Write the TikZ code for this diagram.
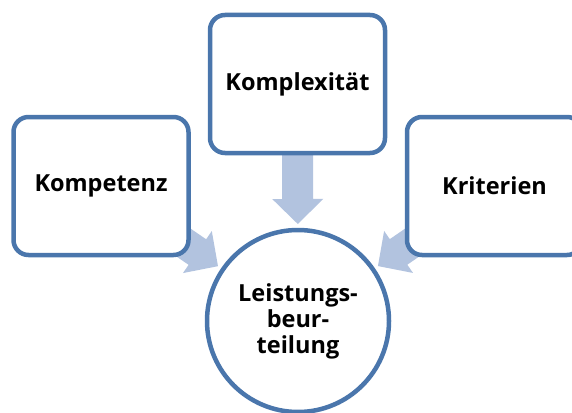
\documentclass[tikz,border=0pt]{standalone}
\usepackage{fontspec}
\setmainfont{Open Sans}
\usetikzlibrary{calc,backgrounds}
\definecolor{boxline}{HTML}{4A76AC}
\definecolor{arrowfill}{HTML}{B2C3DF}
\newcommand\myblockarrow[2]{%
  \fill[arrowfill]
    ($(#1.center)!97pt!(#2.center)$)
    -- ($(#1.center)!122pt!(#2.center)!25.5pt!90:(#2.center)$)
    -- ($(#1.center)!122pt!(#2.center)!15.5pt!90:(#2.center)$)
    -- ($(#1.center)!175pt!(#2.center)!15.5pt!90:(#2.center)$)
    -- ($(#1.center)!175pt!(#2.center)!15.5pt!-90:(#2.center)$)
    -- ($(#1.center)!122pt!(#2.center)!15.5pt!-90:(#2.center)$)
    -- ($(#1.center)!122pt!(#2.center)!25.5pt!-90:(#2.center)$)
    -- cycle;}
\begin{document}
\begin{tikzpicture}[x=1pt,y=-1pt,
  lbl/.style={font=\fontsize{23.5}{26}\selectfont\bfseries},
  box/.style={lbl, draw=boxline, line width=4.5pt, rounded corners=15pt, fill=white,
    minimum width=175pt, minimum height=138pt, inner sep=0pt, outer sep=0pt},
  hub/.style={lbl, circle, draw=boxline, line width=4.5pt, fill=white,
    minimum size=182pt, inner sep=0pt, align=center}]
\useasboundingbox (0,0) rectangle (572,412);
\clip (0,0) rectangle (572,412);
\node[box] (komp) at (101,186) {Kompetenz};
\node[box] (kplx) at (297.5,84) {Komplexität};
\node[box] (krit) at (494.5,186) {Kriterien};
\node[hub] (hub) at (298,321) {Leistungs-\\beur-\\teilung};
\begin{scope}[on background layer]
  \myblockarrow{hub}{komp}
  \myblockarrow{hub}{kplx}
  \myblockarrow{hub}{krit}
\end{scope}
\end{tikzpicture}
\end{document}
